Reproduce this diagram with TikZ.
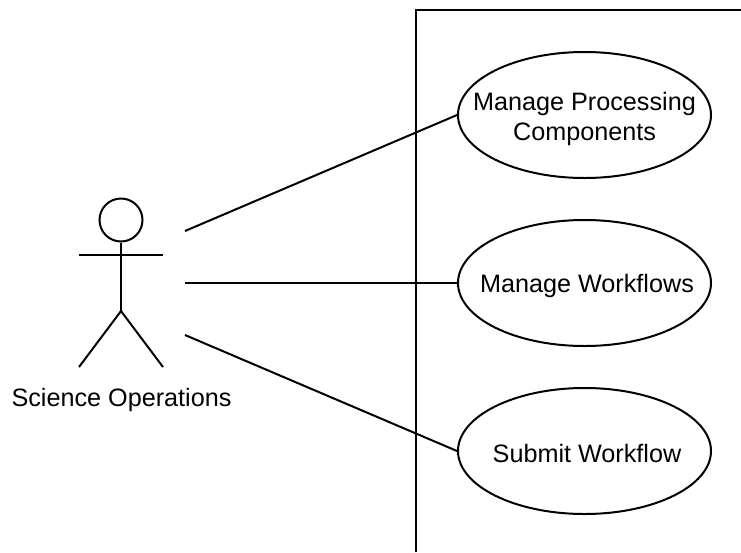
\documentclass[tikz,border=0pt]{standalone}
\usepackage{fontspec}
\setmainfont{Liberation Sans}
\usetikzlibrary{shapes.geometric}
\tikzset{usecase/.style={ellipse,draw=black,line width=2pt,inner sep=0pt,minimum width=253pt,minimum height=126pt}}
\tikzset{casetext/.style={align=center,inner sep=0pt,font=\fontsize{25.2}{29.5}\selectfont}}
\tikzset{stick/.style={line width=2pt}}

\begin{document}
\begin{tikzpicture}[x=1pt,y=-1pt]
\useasboundingbox (0,0) rectangle (741,552);

%system boundary
\draw [line width=2pt] (416,552)--(416,10)--(741,10);

%use cases
\node[usecase] (M) at (584.5,115) {};
\node[usecase] (W) at (584.5,283) {};
\node[usecase] (S) at (584.5,451) {};
\node[casetext] (Mtext) at (584.5,119) {Manage Processing\\Components};
\node[casetext] (Wtext) at (587,286) {Manage Workflows};
\node[casetext] (Stext) at (587,453) {Submit Workflow};

%actor
\node[circle,draw=black,line width=2pt,inner sep=0pt,minimum size=43pt] (head) at (121,220) {};
\coordinate (hip) at (121,311);
\coordinate (armL) at (79,255);
\coordinate (armR) at (163,255);
\coordinate (legL) at (79,367);
\coordinate (legR) at (163,367);
\draw [stick] (head.south)--(hip);
\draw [stick] (armL)--(armR);
\draw [stick] (legL)--(hip)--(legR);
\node[casetext] (actor) at (121.5,400) {Science Operations};

%connectors
\coordinate (c1) at (185,231);
\coordinate (c2) at (185,283);
\coordinate (c3) at (185,335);
\draw [stick] (c1)--(M.west);
\draw [stick] (c2)--(W.west);
\draw [stick] (c3)--(S.west);
\end{tikzpicture}
\end{document}
